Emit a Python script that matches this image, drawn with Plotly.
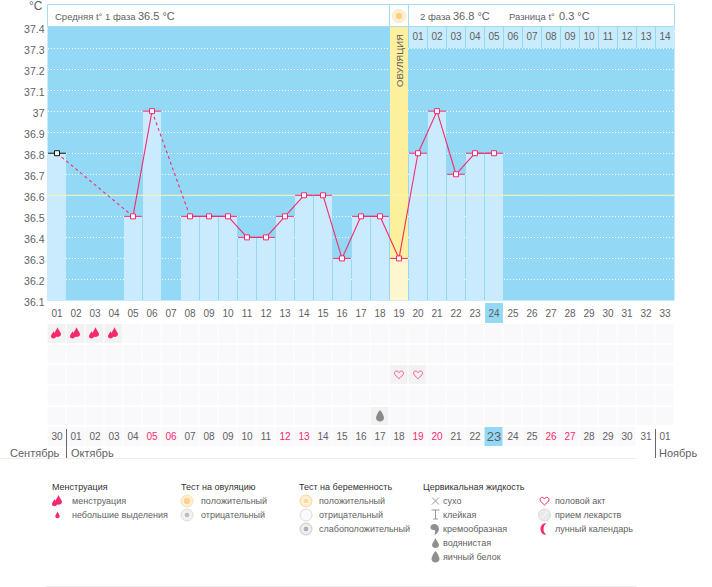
import plotly.graph_objects as go

# Chart data
days = list(range(1, 34))
temps = [36.8, None, None, None, 36.5, 37.0, None, 36.5, 36.5, 36.5, 36.4, 36.4, 36.5, 36.6, 36.6, 36.3,
         36.5, 36.5, 36.3, 36.8, 37.0, 36.7, 36.8, 36.8] + [None] * 9
ovulation_day = 19
today_day = 24
coverline = 36.6
day_labels = ['%02d' % d for d in days]
phase2_days = days[19:]
phase2_labels = ['%02d' % d for d in range(1, 15)]
date_labels = ['30', '01', '02', '03', '04', '05', '06', '07', '08', '09', '10', '11', '12', '13', '14', '15', '16',
               '17', '18', '19', '20', '21', '22', '23', '24', '25', '26', '27', '28', '29', '30', '31', '01']
weekend_labels = [6, 7, 13, 14, 20, 21, 27, 28]  # cycle days printed in pink
y_ticks = [37.4, 37.3, 37.2, 37.1, 37.0, 36.9, 36.8, 36.7, 36.6, 36.5, 36.4, 36.3, 36.2, 36.1]
y_labels = ['37.4', '37.3', '37.2', '37.1', '37', '36.9', '36.8', '36.7', '36.6', '36.5', '36.4', '36.3', '36.2', '36.1']
menstruation_days = [1, 2, 3, 4]
sex_days = [19, 20]
egg_white_days = [18]

FONT = 'Liberation Sans'
PINK = '#f7296d'
TEXT = '#5f5f5f'
SKY = '#93d9f5'
PALE = '#caebfd'
W, H = 712, 587

# Icons, in pixels around their anchor (y up)
DROP = 'M0,5 C1,2 3.5,0 3.5,-2 C3.5,-6 -3.5,-6 -3.5,-2 C-3.5,0 -1,2 0,5 Z'
SMALL_DROP = 'M0,3.5 C0.6,2 2.2,0 2.2,-1.2 C2.2,-3.8 -2.2,-3.8 -2.2,-1.2 C-2.2,0 -0.6,2 0,3.5 Z'
HEART = 'M0,-4 C-2,-2 -4.5,-0.5 -4.5,1.5 C-4.5,4 -1.2,4.5 0,2 C1.2,4.5 4.5,4 4.5,1.5 C4.5,-0.5 2,-2 0,-4 Z'
EGG = 'M0,6 C2,4 4,0 4,-2 C4,-6.5 -4,-6.5 -4,-2 C-4,0 -2,4 0,6 Z'
MOON = 'M2,6 C-6,6 -6,-6 2,-6 C-2,-3 -2,3 2,6 Z'
CREAM = 'M-4,4 C0,7 5,3 3,-2 C2,-4 1,-5 -1,-6 C0,-3 0,-1 -2,-1 C-5,-1 -6,2 -4,4 Z'
STICKY = 'M-4,5 L4,5 M0,5 L0,-4 M-2.5,-4 L2.5,-4'


def add_icon(fig, xref, yref, x, y, path, fill=None, line=None):
    fig.add_shape(type='path', path=path, xref=xref, yref=yref, xsizemode='pixel', ysizemode='pixel',
                  xanchor=x, yanchor=y, fillcolor=fill or 'rgba(0,0,0,0)',
                  line=dict(color=line or 'rgba(0,0,0,0)', width=1), layer='above')


def add_blood(fig, xref, yref, x, y):
    # big drop with a small one at its left
    add_icon(fig, xref, yref, x, y, 'M0.5,6 C1.5,3 4,1 4,-1 C4,-4.5 -3,-4.5 -3,-1 C-3,1 -0.5,3 0.5,6 Z', PINK)
    add_icon(fig, xref, yref, x, y, 'M-3.5,2 C-3,0.5 -1,-1.5 -1,-3 C-1,-6 -6,-6 -6,-3 C-6,-1.5 -4,0.5 -3.5,2 Z', PINK)


def rect(fig, x0, y0, x1, y1, fill, line=None, layer='below'):
    fig.add_shape(type='rect', xref='x2', yref='y3', x0=x0, y0=y0, x1=x1, y1=y1, fillcolor=fill,
                  line=dict(color=line or fill, width=1 if line else 0), layer=layer)


def hline(fig, x0, x1, y, color):
    fig.add_shape(type='line', xref='x2', yref='y3', x0=x0, x1=x1, y0=y, y1=y, line=dict(color=color, width=1))


def vline(fig, x, y0, y1, color):
    fig.add_shape(type='line', xref='x2', yref='y3', x0=x, x1=x, y0=y0, y1=y1, line=dict(color=color, width=1))


def label(fig, x, y, text, size=9, color=TEXT, anchor='left', angle=0):
    fig.add_annotation(xref='x2', yref='y3', x=x, y=y, text=text, showarrow=False, xanchor=anchor, yanchor='middle',
                       font=dict(family=FONT, size=size, color=color), textangle=angle, borderpad=0, borderwidth=0)


fig = go.Figure()

# Symptom grid: 0 empty, 1 marked, 2 today
grid = [[0] * 33 for _ in range(5)] + [[0] * 31 + [None, None]]
for d in menstruation_days:
    grid[0][d - 1] = 1
for d in sex_days:
    grid[2][d - 1] = 1
for d in egg_white_days:
    grid[4][d - 1] = 1
grid[5][today_day - 1] = 2
fig.add_trace(go.Heatmap(z=grid, x=days, y=list(range(6)), xaxis='x', yaxis='y2', xgap=1, ygap=2, zmin=0, zmax=2,
                         colorscale=[[0, '#f9f9fb'], [0.5, '#f2f2f3'], [1, SKY]], showscale=False, hoverinfo='skip'))

# Ovulation column, top part
ovu_temp = temps[ovulation_day - 1]
fig.add_trace(go.Bar(x=[ovulation_day], y=[37.4 - ovu_temp], base=[ovu_temp], width=18 / 19,
                     marker=dict(color='#fdf09d', line_width=0), hoverinfo='skip'))

# Temperature columns
bar_x = [d for d, t in zip(days, temps) if t is not None]
bar_t = [t for t in temps if t is not None]
fig.add_trace(go.Bar(x=bar_x, y=[t - 36.1 for t in bar_t], base=36.1, width=18 / 19,
                     marker=dict(color=['#fdf7cf' if d == ovulation_day else PALE for d in bar_x], line_width=0),
                     hoverinfo='skip'))

# Second phase day numbers along the top
fig.add_trace(go.Bar(x=phase2_days, y=[0.1] * len(phase2_days), base=37.3, width=18 / 19,
                     marker=dict(color='#c9ecfc', line_width=0), hoverinfo='skip'))
fig.add_trace(go.Scatter(x=phase2_days, y=[37.35] * len(phase2_days), mode='text', text=phase2_labels,
                         textfont=dict(family=FONT, size=10, color=TEXT), hoverinfo='skip'))

# Coverline
fig.add_trace(go.Scatter(x=[0.5, 33.5], y=[coverline, coverline], mode='lines',
                         line=dict(color='#f7f6b4', width=1), hoverinfo='skip'))

# Line: solid between neighbouring days, dashed over the gaps
for a, b, ta, tb in zip(bar_x[:-1], bar_x[1:], bar_t[:-1], bar_t[1:]):
    fig.add_trace(go.Scatter(x=[a, b], y=[ta, tb], mode='lines', hoverinfo='skip',
                             line=dict(color=PINK, width=1.1, dash='solid' if b - a == 1 else '3px,3px')))

# Points with their caps, the first one is black
colors = ['#111111' if d == bar_x[0] else PINK for d in bar_x]
for d, t, c in zip(bar_x, bar_t, colors):
    fig.add_trace(go.Scatter(x=[d], y=[t], mode='markers',
                             error_x=dict(type='constant', value=0.47, color=c, thickness=1, width=0),
                             marker=dict(symbol='square', size=5, color='white', line=dict(color=c, width=1))))

# Calendar dates under the grid
date_colors = [PINK if d in weekend_labels else TEXT for d in days]
date_sizes = [13 if d == today_day else 10 for d in days]
fig.add_trace(go.Scatter(x=days, y=[5.03] * 33, yaxis='y2', mode='text', text=date_labels,
                         textfont=dict(family=FONT, size=date_sizes, color=date_colors), hoverinfo='skip'))

# Empty trace so the pixel layer exists
fig.add_trace(go.Scatter(x=[0], y=[0], xaxis='x2', yaxis='y3', mode='markers', marker=dict(size=1, opacity=0),
                         hoverinfo='skip'))

# Plot background
fig.add_shape(type='rect', xref='x domain', yref='y domain', x0=0, x1=1, y0=0, y1=1, fillcolor=SKY, line_width=0,
              layer='below')

# Today highlight under the day labels
fig.add_shape(type='rect', xref='x', yref='paper', x0=today_day - 0.47, x1=today_day + 0.47,
              y0=(H - 323) / H, y1=(H - 303) / H, fillcolor=SKY, line_width=0, layer='below')

# Symptom icons
for d in menstruation_days:
    add_blood(fig, 'x', 'y2', d, 0)
for d in sex_days:
    add_icon(fig, 'x', 'y2', d, 2, HEART, None, '#f8588a')
for d in egg_white_days:
    add_icon(fig, 'x', 'y2', d, 4, EGG, '#8a8a8a')

# Header boxes
rect(fig, 47.5, 4.5, 389.5, 26.5, 'white', '#a6dcf3')
rect(fig, 389.5, 4.5, 408.5, 26.5, 'white', '#a6dcf3')
rect(fig, 408.5, 4.5, 674.5, 26.5, 'white', '#a6dcf3')
label(fig, 55, 16, 'Средняя t° 1 фаза', 9.5)
label(fig, 138, 15.5, '36.5 °C', 11)
label(fig, 420, 16, '2 фаза', 9.5)
label(fig, 453, 15.5, '36.8 °C', 11)
label(fig, 509, 16, 'Разница t°', 9.5)
label(fig, 559, 15.5, '0.3 °C', 11)
label(fig, 36, 6, '°C', 12, anchor='center')
label(fig, 399, 61, 'ОВУЛЯЦИЯ', 9.5, anchor='center', angle=-90)

# Month labels
hline(fig, 0, 637, 458.5, '#eeeeee')
vline(fig, 66.5, 429, 458, '#666666')
vline(fig, 655.5, 429, 458, '#666666')
label(fig, 60, 453, 'Сентябрь', 11, anchor='right')
label(fig, 71, 453, 'Октябрь', 11)
label(fig, 659, 453, 'Ноябрь', 11)

# Legend
HEAD = '#333333'
ROW = [501, 515, 529, 543, 557]
label(fig, 52, 487, 'Менструация', 9, HEAD)
add_blood(fig, 'x2', 'y3', 58, ROW[0])
add_icon(fig, 'x2', 'y3', 57.5, ROW[1], SMALL_DROP, PINK)
label(fig, 72, ROW[0], 'менструация')
label(fig, 72, ROW[1], 'небольшие выделения')

label(fig, 181, 487, 'Тест на овуляцию', 9, HEAD)
label(fig, 201, ROW[0], 'положительный')
label(fig, 201, ROW[1], 'отрицательный')

label(fig, 299, 487, 'Тест на беременность', 9, HEAD)
label(fig, 319, ROW[0], 'положительный')
label(fig, 319, ROW[1], 'отрицательный')
label(fig, 319, ROW[2], 'слабоположительный')

label(fig, 423, 487, 'Цервикальная жидкость', 9, HEAD)
add_icon(fig, 'x2', 'y3', 435.5, ROW[0], 'M-3.5,3.5 L3.5,-3.5 M-3.5,-3.5 L3.5,3.5', None, '#999999')
add_icon(fig, 'x2', 'y3', 435.5, ROW[1], STICKY, None, '#999999')
add_icon(fig, 'x2', 'y3', 435.5, ROW[2], CREAM, '#8f8f8f')
add_icon(fig, 'x2', 'y3', 435.5, ROW[3], DROP, '#8f8f8f')
add_icon(fig, 'x2', 'y3', 435.5, ROW[4], EGG, '#8f8f8f')
for y, t in zip(ROW, ['сухо', 'клейкая', 'кремообразная', 'водянистая', 'яичный белок']):
    label(fig, 443, y, t)

add_icon(fig, 'x2', 'y3', 544.5, ROW[0], HEART, None, PINK)
add_icon(fig, 'x2', 'y3', 544.5, ROW[2], MOON, PINK)
for y, t in zip(ROW, ['половой акт', 'прием лекарств', 'лунный календарь']):
    label(fig, 555, y, t)
hline(fig, 46, 637, 586.5, '#eeeeee')

# Round legend icons and the sun in the header
fig.add_trace(go.Scatter(x=[399, 187, 187, 306, 306, 306, 544.5], y=[16, 501, 515, 501, 515, 529, 515],
                         xaxis='x2', yaxis='y3', mode='markers', hoverinfo='skip',
                         marker=dict(size=[13, 12, 12, 12, 12, 12, 12],
                                     color=['#fde6b8', '#fde6b8', '#ececec', '#fde6b8', '#f8f8f8', '#e4e4e4', '#e2e2e2'],
                                     line=dict(color=['#fbe0a8', '#fad68e', '#cfcfcf', '#f8c878', '#cfcfcf', '#b5b5b5', '#cccccc'],
                                               width=1))))
fig.add_trace(go.Scatter(x=[399, 187, 187, 306, 306], y=[16, 501, 515, 501, 529], xaxis='x2', yaxis='y3',
                         mode='markers', hoverinfo='skip',
                         marker=dict(size=[8, 8, 6, 6, 6], color=['#fbc45c', '#fbc96e', '#aaaaaa', '#f9d48c', '#999999'])))
add_icon(fig, 'x2', 'y3', 544.5, ROW[1], 'M-3,-3 L3,3', None, 'white')

fig.update_layout(
    width=W, height=H, margin=dict(l=0, r=0, t=0, b=0, autoexpand=False), paper_bgcolor='white',
    plot_bgcolor='rgba(0,0,0,0)', showlegend=False, barmode='overlay', hovermode=False,
    font=dict(family=FONT, size=10, color=TEXT),
    xaxis=dict(domain=[47.5 / W, 674.5 / W], range=[0.5, 33.5], anchor='y', tickmode='array', tickvals=days,
               ticktext=day_labels, ticks='', showgrid=False, zeroline=False, tickangle=0, ticklabelstandoff=5,
               tickfont=dict(family=FONT, size=10, color=TEXT)),
    yaxis=dict(domain=[(H - 300.5) / H, (H - 27) / H], range=[36.1, 37.4], anchor='x', tickmode='array',
               tickvals=y_ticks, ticktext=y_labels, ticks='', showgrid=True, griddash='1px,2px', gridcolor='white',
               gridwidth=1, zeroline=False, ticklabelshift=2, ticklabelstandoff=2,
               tickfont=dict(family=FONT, size=10.5, color=TEXT)),
    yaxis2=dict(domain=[(H - 447) / H, (H - 323) / H], range=[5.5, -0.5], anchor='x', visible=False),
    xaxis2=dict(domain=[0, 1], range=[0, W], anchor='y3', visible=False, fixedrange=True),
    yaxis3=dict(domain=[0, 1], range=[H, 0], anchor='x2', visible=False, fixedrange=True),
)

fig.write_html('out.html', config=dict(displayModeBar=False), post_script="document.body.style.margin = '0';")
